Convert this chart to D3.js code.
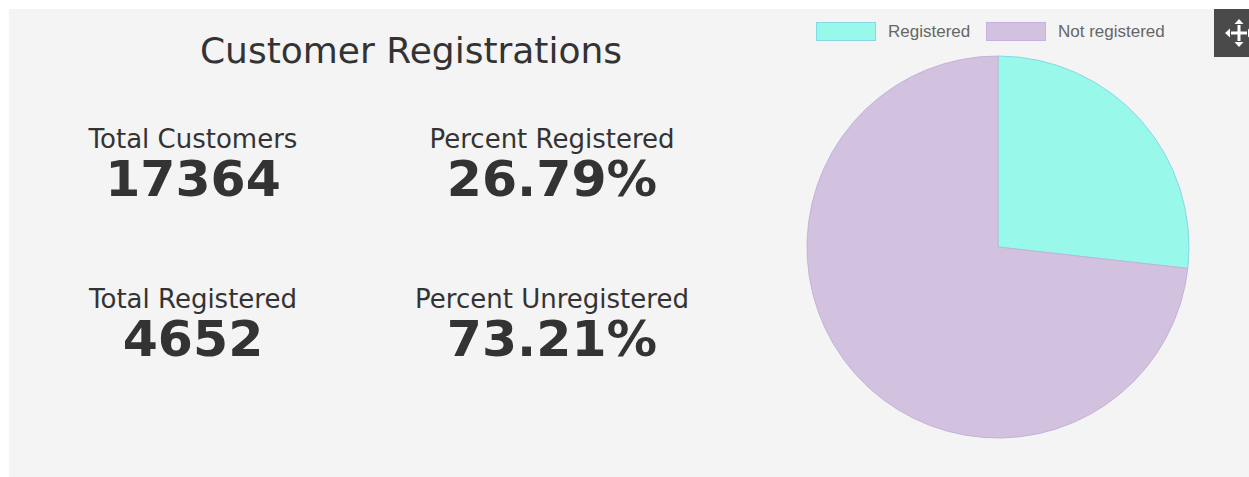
<!DOCTYPE html>
<html>
<head>
<meta charset="utf-8">
<script src="https://cdn.jsdelivr.net/npm/d3@7"></script>
<style>
  html, body { margin: 0; padding: 0; background: #ffffff; }
  svg { display: block; }
</style>
</head>
<body>
<svg id="chart" width="1249" height="477"></svg>
<script>
// ---- data ----
const categories = ["Registered", "Not registered"];
const counts = [4652, 12712];
const sliceColors = ["#98f8ea", "#d2c2e0"];
const sliceStrokes = ["#86d8e6", "#c4b2da"];

const title = "Customer Registrations";
const statLabels = ["Total Customers", "Percent Registered", "Total Registered", "Percent Unregistered"];
const statValues = ["17364", "26.79%", "4652", "73.21%"];

// ---- layout ----
const W = 1249, H = 477;
const svg = d3.select("#chart");

// panel
svg.append("rect").attr("x", 9).attr("y", 9).attr("width", W - 9).attr("height", H - 9)
  .attr("fill", "#f4f4f4");

// title
svg.append("text").attr("x", 411).attr("y", 63)
  .attr("text-anchor", "middle")
  .attr("font-family", "DejaVu Sans, Verdana, sans-serif")
  .attr("font-size", 36).attr("fill", "#333")
  .text(title);

// stats grid
const colX = d3.scalePoint().domain([0, 1]).range([193, 552]);
const rowY = d3.scalePoint().domain([0, 1]).range([148, 308]);
statLabels.forEach((lab, i) => {
  const c = i % 2, r = Math.floor(i / 2);
  const g = svg.append("g").attr("transform", `translate(${colX(c)},${rowY(r)})`);
  g.append("text").attr("text-anchor", "middle")
    .attr("font-family", "DejaVu Sans, Verdana, sans-serif")
    .attr("font-size", 26).attr("fill", "#333")
    .text(lab);
  g.append("text").attr("y", 47.5).attr("text-anchor", "middle")
    .attr("font-family", "DejaVu Sans, Verdana, sans-serif")
    .attr("font-weight", "bold")
    .attr("font-size", 50.5).attr("fill", "#333")
    .text(statValues[i]);
});

// pie
const cx = 998, cy = 247, R = 191;
const pie = d3.pie().sort(null).value(d => d)(counts);
const arc = d3.arc().innerRadius(0).outerRadius(R);
const pg = svg.append("g").attr("transform", `translate(${cx},${cy})`);
pg.selectAll("path").data(pie).join("path")
  .attr("d", arc)
  .attr("fill", (d, i) => sliceColors[i])
  .attr("stroke", (d, i) => sliceStrokes[i])
  .attr("stroke-width", 1);

// legend
const legX = [816, 986];
const lg = svg.append("g");
categories.forEach((cat, i) => {
  lg.append("rect").attr("x", legX[i] + 0.5).attr("y", 22.5).attr("width", 59).attr("height", 18)
    .attr("fill", sliceColors[i]).attr("stroke", sliceStrokes[i]).attr("stroke-width", 1);
  lg.append("text").attr("x", legX[i] + 72).attr("y", 37)
    .attr("font-family", "Liberation Sans, Arial, Helvetica, sans-serif")
    .attr("font-size", 17).attr("fill", "#666")
    .text(cat);
});

// move button
const bg = svg.append("g").attr("transform", "translate(1214,9)");
bg.append("rect").attr("width", 40).attr("height", 48).attr("fill", "#4a4a4a");
const ic = bg.append("g").attr("transform", "translate(25,24)").attr("fill", "#fff");
ic.append("rect").attr("x", -8).attr("y", -1.5).attr("width", 16).attr("height", 3);
ic.append("rect").attr("x", -1.5).attr("y", -8).attr("width", 3).attr("height", 16);
[[0, -12, 0], [12, 0, 90], [0, 12, 180], [-12, 0, 270]].forEach(([x, y, rot]) => {
  ic.append("path").attr("d", "M0,-2 L-4.5,3 L4.5,3 Z")
    .attr("transform", `translate(${x},${y}) rotate(${rot})`);
});
</script>
</body>
</html>
